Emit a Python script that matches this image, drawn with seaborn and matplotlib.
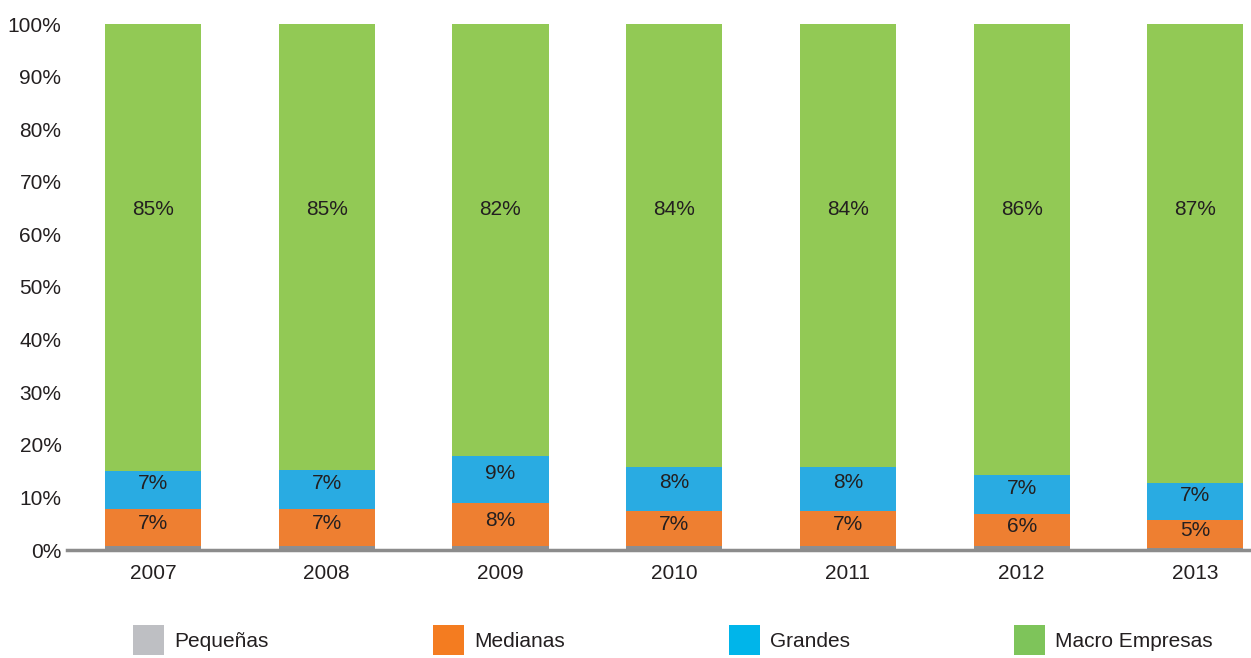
import numpy as np
import pandas as pd
import matplotlib
matplotlib.use("Agg")
import matplotlib.pyplot as plt
from matplotlib.patches import Patch
import seaborn as sns

# === DATOS ===
anios = ["2007", "2008", "2009", "2010", "2011", "2012", "2013"]
pequenas = [0.7, 0.7, 0.7, 0.7, 0.7, 0.7, 0.3]
medianas = [7.1, 7.1, 8.2, 6.7, 6.7, 6.1, 5.4]
grandes = [7.2, 7.4, 9.0, 8.4, 8.4, 7.4, 7.0]
macro = [100 - p - m - g for p, m, g in zip(pequenas, medianas, grandes)]

series = ["Pequeñas", "Medianas", "Grandes", "Macro Empresas"]
colores = ["#8E8E90", "#EE7F31", "#29ABE2", "#92C955"]
colores_leyenda = ["#BEBFC3", "#F47C20", "#00B5EA", "#7EC45A"]

df = pd.DataFrame({"Año": anios, "Pequeñas": pequenas, "Medianas": medianas,
                   "Grandes": grandes, "Macro Empresas": macro})
acum = df[series].cumsum(axis=1)
acum["Año"] = df["Año"]

# === ESTILO ===
sns.set_style("white")
plt.rcParams["font.family"] = ["Liberation Sans", "DejaVu Sans"]
texto = "#231F20"
fs = 15

fig = plt.figure(figsize=(12.51, 6.58), dpi=100)
ax = fig.add_axes([67 / 1251, 1 - 550 / 658, 1 - 67 / 1251, (550 - 24) / 658])

# barras apiladas: se dibuja el acumulado de arriba hacia abajo
for serie, color in zip(series[::-1], colores[::-1]):
    sns.barplot(data=acum, x="Año", y=serie, color=color, width=0.553,
                edgecolor="none", linewidth=0, saturation=1, ax=ax)

# === ETIQUETAS DE VALOR ===
for i in range(len(anios)):
    base = pequenas[i]
    ax.text(i, base + medianas[i] / 2 + 0.8, f"{round(medianas[i])}%", ha="center",
            va="center", fontsize=fs, color=texto)
    base += medianas[i]
    ax.text(i, base + grandes[i] / 2 + 1.2, f"{round(grandes[i])}%", ha="center",
            va="center", fontsize=fs, color=texto)
    ax.text(i, 64.7, f"{round(macro[i])}%", ha="center", va="center",
            fontsize=fs, color=texto)

# === EJES ===
ax.set_xlim(-0.495, 6.32)
ax.set_ylim(0, 100)
ax.set_yticks(np.arange(0, 101, 10))
ax.set_yticklabels([f"{v}%" for v in range(0, 101, 10)])
ax.set_xlabel("")
ax.set_ylabel("")
ax.tick_params(axis="both", length=0, labelsize=fs, colors=texto)
ax.tick_params(axis="y", pad=4)
ax.tick_params(axis="x", pad=10)
for lado in ["top", "right", "left"]:
    ax.spines[lado].set_visible(False)
ax.spines["bottom"].set_color("#8C8C8C")
ax.spines["bottom"].set_linewidth(2.5)
ax.set_zorder(1)

# === LEYENDA ===
handles = [Patch(facecolor=c, edgecolor="none") for c in colores_leyenda]
fig.legend(handles, series, loc="center left", bbox_to_anchor=(133 / 1251, 1 - 640 / 658),
           ncol=4, frameon=False, fontsize=fs, handlelength=1.5, handleheight=1.9,
           handletextpad=0.5, columnspacing=7.85, borderpad=0, borderaxespad=0,
           labelcolor=texto)

fig.savefig("out.png", dpi=100)
